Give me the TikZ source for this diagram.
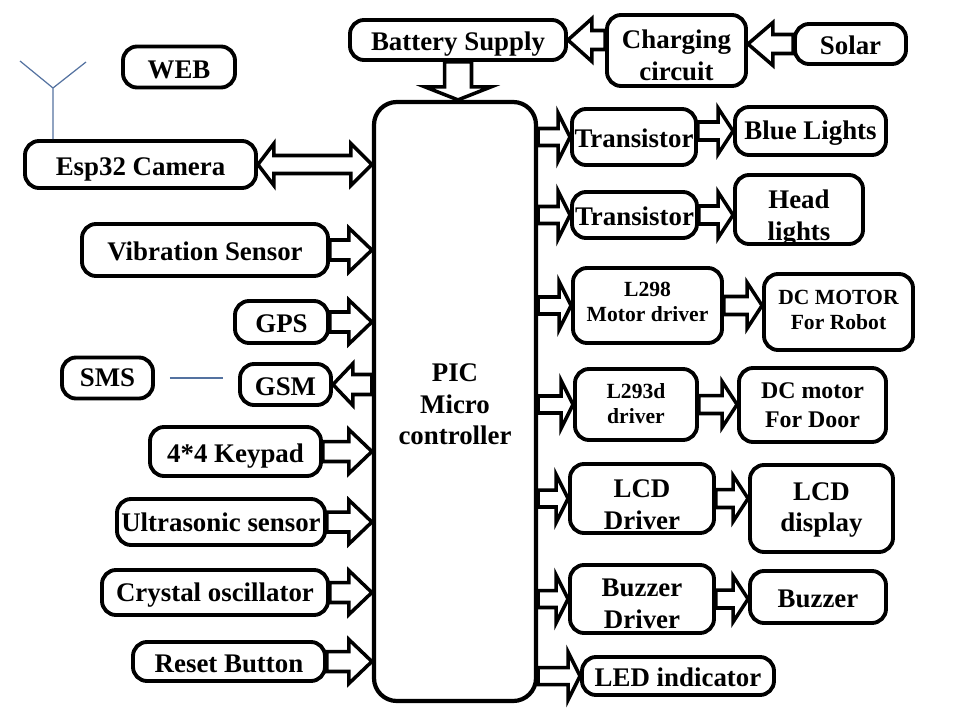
\documentclass[tikz,border=0pt]{standalone}
\usepackage{fontspec}
\setmainfont{Liberation Serif}
\usetikzlibrary{calc}
\definecolor{wireblue}{RGB}{84,114,160}
\newcommand{\bigtxt}{\fontsize{15.3pt}{18pt}\selectfont\bfseries}
\newcommand{\midtxt}{\fontsize{13.6pt}{16.5pt}\selectfont\bfseries}
\newcommand{\smalltxt}{\fontsize{12.3pt}{14.2pt}\selectfont\bfseries}
% hollow block arrow: shaft half width, head half width, head length, from, to
\newcommand{\fatarrow}[5]{%
  \coordinate (fa) at ($(#5)!#3!(#4)$);
  \draw[fat] ($(#4)!#1!90:(#5)$) -- ($(fa)!#1!90:(#5)$) -- ($(fa)!#2!90:(#5)$) -- (#5)
    -- ($(fa)!#2!-90:(#5)$) -- ($(fa)!#1!-90:(#5)$) -- ($(#4)!#1!-90:(#5)$) -- cycle;}
\tikzset{
  box/.style 2 args={draw, line width=2.2pt, rounded corners=8pt, align=center, inner sep=0pt,
    font=\bigtxt, text depth=0pt, text height=12.4pt,
    minimum width=(#1-4)*0.02cm, minimum height=(#2-4)*0.02cm},
  fat/.style={draw, fill=white, line width=2pt, line join=miter},
  wire/.style={draw=wireblue, line width=0.7pt}
}
\begin{document}
\begin{tikzpicture}[x=0.02cm, y=-0.02cm]
  \useasboundingbox (0,0) rectangle (960,720);

  % controller
  \node[box={166}{603}, rounded corners=13pt, line width=2.4pt, text height=49.5pt] (mcu) at (455,401.5) {PIC\\Micro\\controller};

  % power
  \node[box={220}{44}] (bat) at (458,40) {Battery Supply};
  \node[box={143}{75}, text height=33.7pt] (chg) at (676.5,50.5) {Charging\\circuit};
  \node[box={115}{44}] (sol) at (850.5,44) {Solar};

  % inputs
  \node[box={116}{45}, text height=13.5pt] (web) at (179,67) {WEB};
  \node[box={235}{51}] (esp) at (140.5,164.5) {Esp32 Camera};
  \node[box={250}{56}] (vib) at (205,250) {Vibration Sensor};
  \node[box={97}{46}] (gps) at (281.5,322) {GPS};
  \node[box={95}{45}, text height=10.1pt] (sms) at (107.5,378) {SMS};
  \node[box={95}{45}] (gsm) at (285.5,384.5) {GSM};
  \node[box={175}{53}] (key) at (235.5,451.5) {4*4 Keypad};
  \node[box={212}{50}, text height=11.3pt] (ult) at (221,522) {Ultrasonic sensor};
  \node[box={230}{49}, text height=10.7pt] (cry) at (215,592.5) {Crystal oscillator};
  \node[box={196}{43}] (rst) at (229,661.5) {Reset Button};

  % outputs
  \node[box={128}{60}] (tr1) at (634,137) {Transistor};
  \node[box={155}{52}, text height=10.1pt] (blu) at (810.5,131) {Blue Lights};
  \node[box={129}{50}] (tr2) at (634.5,215) {Transistor};
  \node[box={132}{73}, text height=34.9pt] (hdl) at (799,209.5) {Head\\lights};
  \node[box={153}{79}, font=\smalltxt, text height=17.7pt] (l298) at (647.5,305.5) {L298\\Motor driver};
  \node[box={153}{80}, font=\smalltxt, text height=19.5pt] (dcr) at (838.5,312) {DC MOTOR\\For Robot};
  \node[box={126}{75}, font=\smalltxt, text height=21.1pt] (l293) at (636,404.5) {L293d\\driver};
  \node[box={151}{78}, font=\midtxt, text height=25.5pt] (dcd) at (812.5,405) {DC motor\\For Door};
  \node[box={148}{73}, text height=34.9pt] (lcdd) at (642,498.5) {LCD\\Driver};
  \node[box={147}{91}, text height=26.4pt] (lcd) at (821.5,508.5) {LCD\\display};
  \node[box={148}{72}, text height=33.7pt] (bzd) at (642,599) {Buzzer\\Driver};
  \node[box={140}{56}] (bz) at (818,597) {Buzzer};
  \node[box={196}{42}] (led) at (678,676) {LED indicator};

  % antenna and sms link
  \coordinate (ant) at (53,88);
  \draw[wire] (ant |- esp.north) -- (ant) -- (20,61) (ant) -- (86,62);
  \draw[wire, shorten <=0.3cm, shorten >=0.3cm] (sms.east) -- (sms.east -| gsm.west);

  % power arrows
  \coordinate (bat-end) at (bat.south |- mcu.north);
  \fatarrow{0.27cm}{0.66cm}{0.26cm}{bat.south}{bat-end}
  \coordinate (chg-start) at (chg.west |- bat.east);
  \fatarrow{0.19cm}{0.43cm}{0.48cm}{chg-start}{bat.east}
  \coordinate (sol-end) at (sol.west -| chg.east);
  \fatarrow{0.19cm}{0.43cm}{0.5cm}{sol.west}{sol-end}

  % camera link
  \coordinate (esp-end) at (esp.east -| mcu.west);
  \coordinate (ea) at ($(esp.east)!0.32cm!(esp-end)$);
  \coordinate (eb) at ($(esp-end)!0.42cm!(esp.east)$);
  \draw[fat] (esp.east) -- ($(ea)!0.42cm!90:(esp-end)$) -- ($(ea)!0.18cm!90:(esp-end)$)
    -- ($(eb)!0.18cm!90:(esp-end)$) -- ($(eb)!0.42cm!90:(esp-end)$) -- (esp-end)
    -- ($(eb)!0.42cm!-90:(esp-end)$) -- ($(eb)!0.18cm!-90:(esp-end)$)
    -- ($(ea)!0.18cm!-90:(esp-end)$) -- ($(ea)!0.42cm!-90:(esp-end)$) -- cycle;

  % inputs to controller
  \foreach \n in {vib,gps,key,ult,cry,rst} {
    \coordinate (\n-end) at (\n.east -| mcu.west);
    \fatarrow{0.2cm}{0.44cm}{0.46cm}{\n.east}{\n-end}
  }
  \coordinate (gsm-start) at (gsm.east -| mcu.west);
  \fatarrow{0.2cm}{0.42cm}{0.4cm}{gsm-start}{gsm.east}

  % controller to outputs
  \foreach \n in {tr1,tr2,l298,l293,lcdd,bzd,led} {
    \coordinate (\n-start) at (mcu.east |- \n.west);
    \fatarrow{0.17cm}{0.48cm}{0.24cm}{\n-start}{\n.west}
  }
  \coordinate (blu-start) at (tr1.east |- blu.west);
  \fatarrow{0.18cm}{0.46cm}{0.3cm}{blu-start}{blu.west}
  \foreach \a/\b in {tr2/hdl,l298/dcr,l293/dcd,lcdd/lcd,bzd/bz} {
    \coordinate (\a-out) at (\a.east -| \b.west);
    \fatarrow{0.18cm}{0.46cm}{0.3cm}{\a.east}{\a-out}
  }
\end{tikzpicture}
\end{document}
